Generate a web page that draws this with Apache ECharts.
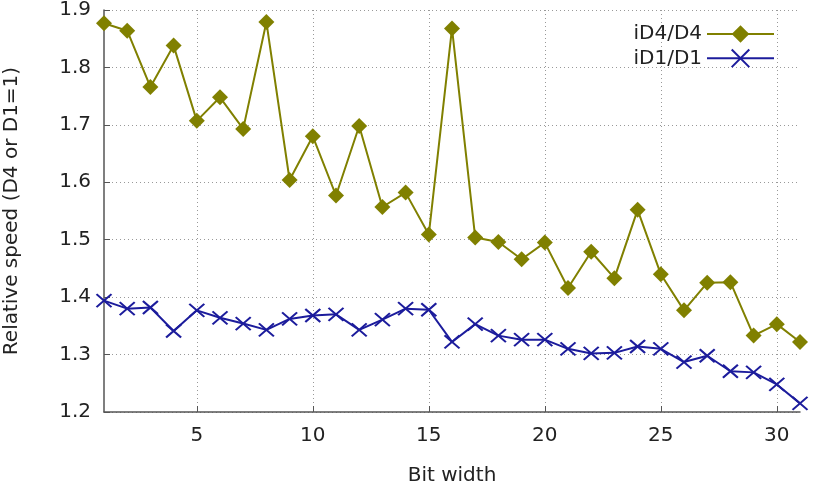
<!DOCTYPE html>
<html lang="en">
<head>
  <meta charset="UTF-8">
  <title>Relative speed by bit width</title>
  <script src="https://cdn.jsdelivr.net/npm/echarts@6/dist/echarts.min.js"></script>
  <style>
    html, body { margin: 0; padding: 0; background: #fff; }
    #chart { width: 813px; height: 481px; }
  </style>
</head>
<body>
<div id="chart"></div>
<script>
  // bit widths 1..31
  const bitWidths = [1, 2, 3, 4, 5, 6, 7, 8, 9, 10, 11, 12, 13, 14, 15, 16,
                     17, 18, 19, 20, 21, 22, 23, 24, 25, 26, 27, 28, 29, 30, 31];
  const iD4 = [1.877, 1.864, 1.766, 1.838, 1.707, 1.748, 1.693, 1.879, 1.604, 1.680,
               1.577, 1.698, 1.557, 1.582, 1.509, 1.868, 1.504, 1.496, 1.466, 1.495,
               1.416, 1.479, 1.433, 1.552, 1.440, 1.377, 1.425, 1.426, 1.333, 1.353, 1.322];
  const iD1 = [1.394, 1.380, 1.382, 1.341, 1.377, 1.364, 1.354, 1.343, 1.362, 1.368,
               1.370, 1.343, 1.361, 1.380, 1.378, 1.322, 1.353, 1.333, 1.326, 1.326,
               1.310, 1.302, 1.303, 1.314, 1.310, 1.287, 1.298, 1.271, 1.269, 1.248, 1.215];
  const xTicks = [5, 10, 15, 20, 25, 30];

  const olive = '#808000';
  const navy = '#1c1c9c';
  const font = 'DejaVu Sans';

  const chart = echarts.init(document.getElementById('chart'));

  chart.setOption({
    animation: false,
    textStyle: { fontFamily: font },
    grid: { left: 104, right: 13, top: 10, bottom: 69, outerBoundsMode: 'none' },
    legend: {
      orient: 'vertical',
      right: 33,
      top: 19,
      align: 'right',
      itemWidth: 67,
      itemHeight: 22,
      itemGap: 3,
      textStyle: { fontSize: 20, color: '#222', fontFamily: font },
      data: ['iD4/D4', 'iD1/D1']
    },
    xAxis: {
      type: 'value',
      min: 1,
      max: 31,
      name: 'Bit width',
      nameLocation: 'middle',
      nameGap: 54,
      nameTextStyle: { fontSize: 20, color: '#222' },
      axisLine: { show: true, lineStyle: { color: '#555', width: 1.5 } },
      axisTick: { inside: true, length: 6, customValues: xTicks, lineStyle: { color: '#555' } },
      axisLabel: { customValues: xTicks, fontSize: 20, color: '#222', margin: 14 },
      splitLine: { show: true, lineStyle: { type: [1, 3], color: '#999' } }
    },
    yAxis: {
      type: 'value',
      min: 1.2,
      max: 1.9,
      interval: 0.1,
      name: 'Relative speed (D4 or D1=1)',
      nameLocation: 'middle',
      nameGap: 82,
      nameTextStyle: { fontSize: 20, color: '#222' },
      axisLine: { show: true, lineStyle: { color: '#555', width: 1.5 } },
      axisTick: { show: true, inside: true, length: 6, lineStyle: { color: '#555' } },
      axisLabel: { fontSize: 20, color: '#222', margin: 13, formatter: v => v.toFixed(1) },
      splitLine: { show: true, lineStyle: { type: [1, 3], color: '#999' } }
    },
    series: [
      {
        name: 'iD4/D4',
        type: 'line',
        data: bitWidths.map((x, i) => [x, iD4[i]]),
        symbol: 'diamond',
        symbolSize: 16,
        lineStyle: { color: olive, width: 2 },
        itemStyle: { color: olive }
      },
      {
        name: 'iD1/D1',
        type: 'line',
        data: bitWidths.map((x, i) => [x, iD1[i]]),
        symbol: 'path://M0,0L10,10M10,0L0,10',
        symbolSize: [15, 13],
        lineStyle: { color: navy, width: 2 },
        itemStyle: { color: 'none', borderColor: navy, borderWidth: 2 }
      }
    ]
  });
</script>
</body>
</html>
